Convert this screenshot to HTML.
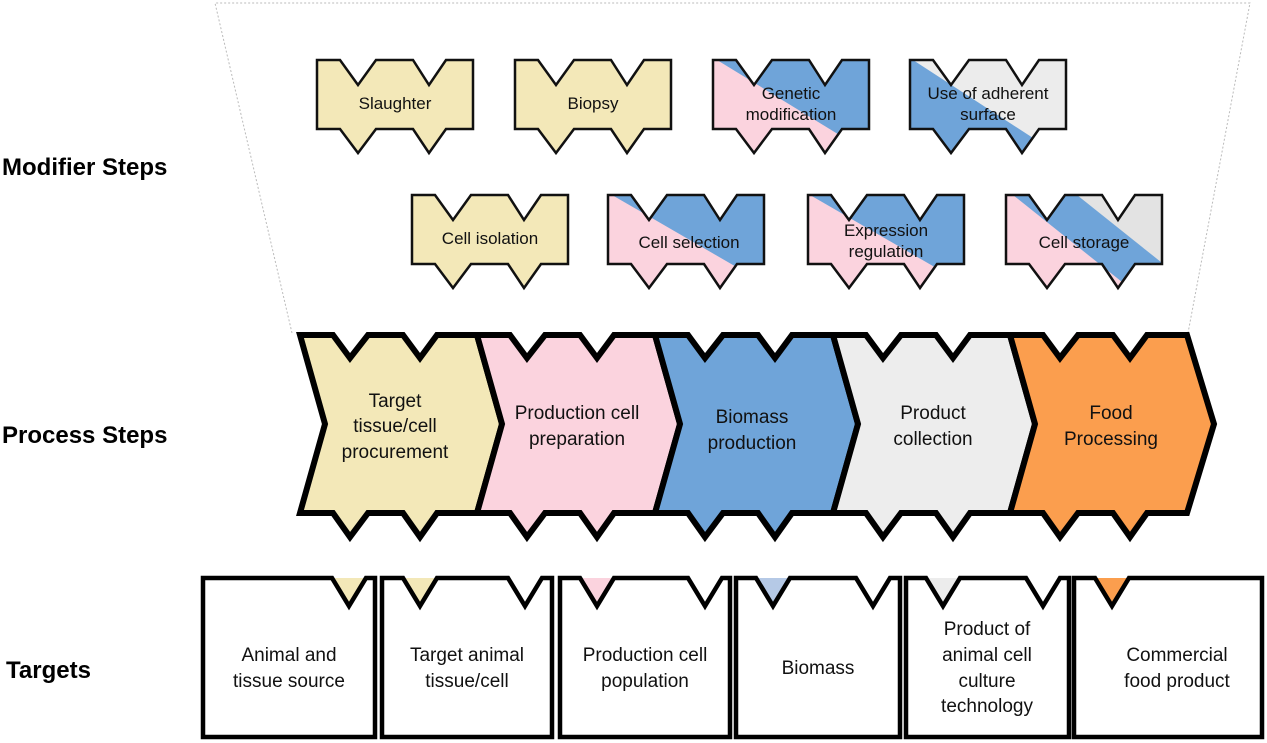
<!DOCTYPE html>
<html><head><meta charset="utf-8"><style>
html,body{margin:0;padding:0;background:#fff;}
svg{display:block;font-family:"Liberation Sans",Arial,sans-serif;}
</style></head><body>
<svg width="1267" height="743" viewBox="0 0 1267 743" xmlns="http://www.w3.org/2000/svg">
<defs>
<clipPath id="cg"><path d="M713,60 L736,60 L754,85 L772,60 L809,60 L825,85 L842,60 L869,60 L869,129 L842,129 L825,153 L809,129 L772,129 L754,153 L736,129 L713,129 Z"/></clipPath>
<clipPath id="ca"><path d="M910,60 L933,60 L951,85 L969,60 L1006,60 L1022,85 L1039,60 L1066,60 L1066,129 L1039,129 L1022,153 L1006,129 L969,129 L951,153 L933,129 L910,129 Z"/></clipPath>
<clipPath id="cs"><path d="M608,195 L631,195 L649,220 L667,195 L704,195 L720,220 L737,195 L764,195 L764,264 L737,264 L720,288 L704,264 L667,264 L649,288 L631,264 L608,264 Z"/></clipPath>
<clipPath id="ce"><path d="M808,195 L831,195 L849,220 L867,195 L904,195 L920,220 L937,195 L964,195 L964,264 L937,264 L920,288 L904,264 L867,264 L849,288 L831,264 L808,264 Z"/></clipPath>
<clipPath id="cst"><path d="M1006,195 L1029,195 L1047,220 L1065,195 L1102,195 L1118,220 L1135,195 L1162,195 L1162,264 L1135,264 L1118,288 L1102,264 L1065,264 L1047,288 L1029,264 L1006,264 Z"/></clipPath>
</defs>

<!-- trapezoid dotted -->
<g stroke="#bbb" stroke-width="1" stroke-dasharray="2,2" fill="none">
<path d="M292,333 L215,3 L1250,3 L1188,333"/>
</g>

<!-- left labels -->
<g font-weight="bold" font-size="24" fill="#000">
<text x="2" y="175">Modifier Steps</text>
<text x="2" y="443">Process Steps</text>
<text x="6" y="678">Targets</text>
</g>

<!-- modifiers -->
<g stroke="#111" stroke-width="2.5" stroke-linejoin="miter">
<path fill="#f3e8b8" d="M317,60 L340,60 L358,85 L376,60 L413,60 L429,85 L446,60 L473,60 L473,129 L446,129 L429,153 L413,129 L376,129 L358,153 L340,129 L317,129 Z"/>
<path fill="#f3e8b8" d="M515,60 L538,60 L556,85 L574,60 L611,60 L627,85 L644,60 L671,60 L671,129 L644,129 L627,153 L611,129 L574,129 L556,153 L538,129 L515,129 Z"/>
<path fill="#f3e8b8" d="M412,195 L435,195 L453,220 L471,195 L508,195 L524,220 L541,195 L568,195 L568,264 L541,264 L524,288 L508,264 L471,264 L453,288 L435,264 L412,264 Z"/>
</g>
<g clip-path="url(#cg)"><rect x="700" y="50" width="200" height="120" fill="#fbd3de"/><polygon points="717,60 890,60 890,166" fill="#6fa4d9"/></g>
<path fill="none" stroke="#111" stroke-width="2.5" d="M713,60 L736,60 L754,85 L772,60 L809,60 L825,85 L842,60 L869,60 L869,129 L842,129 L825,153 L809,129 L772,129 L754,153 L736,129 L713,129 Z"/>
<g clip-path="url(#ca)"><rect x="900" y="50" width="200" height="120" fill="#6fa4d9"/><polygon points="913,60 1090,60 1090,175" fill="#ececec"/></g>
<path fill="none" stroke="#111" stroke-width="2.5" d="M910,60 L933,60 L951,85 L969,60 L1006,60 L1022,85 L1039,60 L1066,60 L1066,129 L1039,129 L1022,153 L1006,129 L969,129 L951,153 L933,129 L910,129 Z"/>
<g clip-path="url(#cs)"><rect x="600" y="185" width="200" height="120" fill="#fbd3de"/><polygon points="612,195 790,195 790,298" fill="#6fa4d9"/></g>
<path fill="none" stroke="#111" stroke-width="2.5" d="M608,195 L631,195 L649,220 L667,195 L704,195 L720,220 L737,195 L764,195 L764,264 L737,264 L720,288 L704,264 L667,264 L649,288 L631,264 L608,264 Z"/>
<g clip-path="url(#ce)"><rect x="800" y="185" width="200" height="120" fill="#fbd3de"/><polygon points="810,195 990,195 990,299" fill="#6fa4d9"/></g>
<path fill="none" stroke="#111" stroke-width="2.5" d="M808,195 L831,195 L849,220 L867,195 L904,195 L920,220 L937,195 L964,195 L964,264 L937,264 L920,288 L904,264 L867,264 L849,288 L831,264 L808,264 Z"/>
<g clip-path="url(#cst)"><rect x="1000" y="185" width="200" height="120" fill="#fbd3de"/><polygon points="1013,195 1206,195 1206,349" fill="#6fa4d9"/><polygon points="1077,195 1206,195 1206,298" fill="#e3e3e3"/></g>
<path fill="none" stroke="#111" stroke-width="2.5" d="M1006,195 L1029,195 L1047,220 L1065,195 L1102,195 L1118,220 L1135,195 L1162,195 L1162,264 L1135,264 L1118,288 L1102,264 L1065,264 L1047,288 L1029,264 L1006,264 Z"/>

<g font-size="17" fill="#111" text-anchor="middle">
<text x="395" y="109">Slaughter</text>
<text x="593" y="109">Biopsy</text>
<text x="791" y="99">Genetic</text>
<text x="791" y="120">modification</text>
<text x="988" y="99">Use of adherent</text>
<text x="988" y="120">surface</text>
<text x="490" y="244">Cell isolation</text>
<text x="689" y="248">Cell selection</text>
<text x="886" y="236">Expression</text>
<text x="886" y="257">regulation</text>
<text x="1084" y="248">Cell storage</text>
</g>

<!-- process chevrons -->
<g stroke="#000" stroke-width="6" stroke-linejoin="miter">
<path fill="#f3e8b8" d="M300,335 L333,335 L350,358 L368,335 L403,335 L420,358 L437,335 L477,335 L502,424 L477,513 L437,513 L420,537 L403,513 L368,513 L350,537 L333,513 L300,513 L325,424 Z"/>
<path fill="#fbd3de" d="M477,335 L510,335 L527,358 L545,335 L580,335 L597,358 L614,335 L655,335 L680,424 L655,513 L614,513 L597,537 L580,513 L545,513 L527,537 L510,513 L477,513 L502,424 Z"/>
<path fill="#6fa4d9" d="M655,335 L688,335 L705,358 L723,335 L758,335 L775,358 L792,335 L833,335 L858,424 L833,513 L792,513 L775,537 L758,513 L723,513 L705,537 L688,513 L655,513 L680,424 Z"/>
<path fill="#ededed" d="M833,335 L866,335 L883,358 L901,335 L936,335 L953,358 L970,335 L1010,335 L1035,424 L1010,513 L970,513 L953,537 L936,513 L901,513 L883,537 L866,513 L833,513 L858,424 Z"/>
<path fill="#fb9e4e" d="M1010,335 L1043,335 L1060,358 L1078,335 L1113,335 L1130,358 L1147,335 L1187,335 L1214,424 L1187,513 L1147,513 L1130,537 L1113,513 L1078,513 L1060,537 L1043,513 L1010,513 L1035,424 Z"/>
</g>
<g font-size="19" fill="#111" text-anchor="middle">
<text x="395" y="407">Target</text>
<text x="395" y="432">tissue/cell</text>
<text x="395" y="458">procurement</text>
<text x="577" y="419">Production cell</text>
<text x="577" y="445">preparation</text>
<text x="752" y="423">Biomass</text>
<text x="752" y="449">production</text>
<text x="933" y="419">Product</text>
<text x="933" y="445">collection</text>
<text x="1111" y="419">Food</text>
<text x="1111" y="445">Processing</text>
</g>

<!-- targets -->
<g stroke="none">
<polygon points="332,578 366,578 349,606" fill="#f3e8b8"/>
<polygon points="403,578 437,578 420,606" fill="#f3e8b8"/>
<polygon points="580,578 614,578 597,606" fill="#fbd3de"/>
<polygon points="756,578 790,578 773,606" fill="#b5c9e6"/>
<polygon points="926,578 960,578 943,606" fill="#ececec"/>
<polygon points="1095,578 1129,578 1112,606" fill="#fb9e4e"/>
</g>
<g stroke="#000" stroke-width="4.5" fill="none" stroke-linejoin="miter">
<path d="M332,578 L203,578 L203,737 L375,737 L375,578 L366,578 L349,606 Z"/>
<path d="M403,578 L382,578 L382,737 L552,737 L552,578 L542,578 L525,606 L508,578 L437,578 L420,606 Z"/>
<path d="M580,578 L560,578 L560,737 L730,737 L730,578 L722,578 L705,606 L688,578 L614,578 L597,606 Z"/>
<path d="M756,578 L736,578 L736,737 L900,737 L900,578 L890,578 L873,606 L856,578 L790,578 L773,606 Z"/>
<path d="M926,578 L906,578 L906,737 L1069,737 L1069,578 L1060,578 L1043,606 L1026,578 L960,578 L943,606 Z"/>
<path d="M1095,578 L1074,578 L1074,737 L1262,737 L1262,578 L1129,578 L1112,606 Z"/>
</g>
<g font-size="19" fill="#111" text-anchor="middle">
<text x="289" y="661">Animal and</text>
<text x="289" y="687">tissue source</text>
<text x="467" y="661">Target animal</text>
<text x="467" y="687">tissue/cell</text>
<text x="645" y="661">Production cell</text>
<text x="645" y="687">population</text>
<text x="818" y="674">Biomass</text>
<text x="987" y="635">Product of</text>
<text x="987" y="661">animal cell</text>
<text x="987" y="687">culture</text>
<text x="987" y="712">technology</text>
<text x="1177" y="661">Commercial</text>
<text x="1177" y="687">food product</text>
</g>
</svg>
</body></html>
